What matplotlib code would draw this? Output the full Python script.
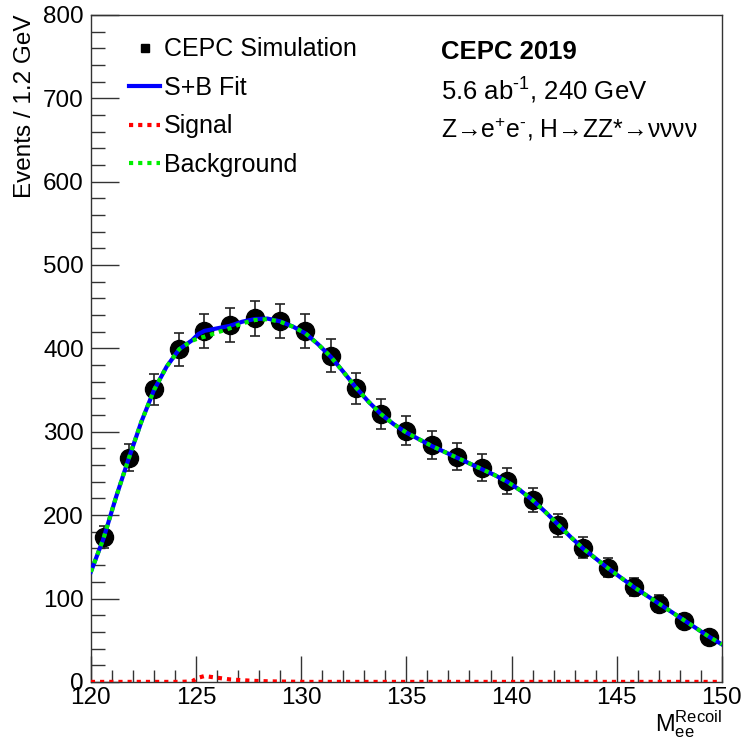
import numpy as np
import matplotlib
matplotlib.use("Agg")
import matplotlib.pyplot as plt
from matplotlib.ticker import MultipleLocator
from matplotlib.lines import Line2D

plt.rcParams['font.family'] = ['Liberation Sans', 'DejaVu Sans']
plt.rcParams['mathtext.fontset'] = 'custom'
plt.rcParams['mathtext.rm'] = 'Liberation Sans'
plt.rcParams['mathtext.it'] = 'Liberation Sans:italic'
plt.rcParams['mathtext.bf'] = 'Liberation Sans:bold'

# simulated data, 1.2 GeV bins
bin_centers = [120.6, 121.8, 123.0, 124.2, 125.4, 126.6, 127.8, 129.0, 130.2,
               131.4, 132.6, 133.8, 135.0, 136.2, 137.4, 138.6, 139.8, 141.0,
               142.2, 143.4, 144.6, 145.8, 147.0, 148.2, 149.4]
counts = [174, 269, 351, 399, 421, 428, 436, 433, 421, 391, 352, 321, 301,
          284, 270, 257, 241, 218, 188, 161, 137, 114, 94, 73, 54]

# fit curves
curve_x = [120.0, 120.6, 121.2, 121.8, 122.4, 123.0, 123.6, 124.2, 124.8,
           125.1, 125.4, 126.0, 126.6, 127.2, 127.8, 128.4, 129.0, 129.6,
           130.2, 130.8, 131.4, 132.0, 132.6, 133.2, 133.8, 134.4, 135.0,
           135.6, 136.2, 136.8, 137.4, 138.0, 138.6, 139.2, 139.8, 140.4,
           141.0, 141.6, 142.2, 142.8, 143.4, 144.0, 144.6, 145.2, 145.8,
           146.4, 147.0, 147.6, 148.2, 148.8, 149.4, 150.0]
background = [132, 172, 222, 268, 312, 350, 378, 399, 409, 412, 414, 419,
              424, 430, 434, 435, 432, 426, 418, 405, 390, 372, 353, 336,
              321, 309, 299, 291, 283, 276, 269, 262, 255, 248, 240, 230,
              218, 204, 189, 174, 160, 148, 136, 125, 114, 104, 94, 84, 74,
              64, 54, 45]
signal = [0, 0, 0, 0, 0, 0, 0, 0, 0.5, 5, 7, 5, 3, 2, 1.2, 0.7, 0.4, 0.2,
          0, 0, 0, 0, 0, 0, 0, 0, 0, 0, 0, 0, 0, 0, 0, 0, 0, 0, 0, 0, 0, 0,
          0, 0, 0, 0, 0, 0, 0, 0, 0, 0, 0, 0]

sb_fit = np.array(background) + np.array(signal)
errors = np.sqrt(counts)

fig = plt.figure(figsize=(7.45, 7.42), dpi=100)
ax = fig.add_axes([0.122, 0.081, 0.847, 0.899])

ax.errorbar(bin_centers, counts, yerr=errors, fmt='o', color='black',
            markersize=13, ecolor='#222222', elinewidth=1.2, capsize=3.5,
            capthick=1.2, zorder=2)
ax.plot(curve_x, sb_fit, color='#0000ff', lw=3, zorder=3)
ax.plot(curve_x, signal, color='#ff0000', lw=3, ls=(0, (1, 1.2)), zorder=4)
ax.plot(curve_x, background, color='#00ee00', lw=3, ls=(0, (1, 1.2)), zorder=4)

ax.set_xlim(120, 150)
ax.set_ylim(0, 800)
ax.xaxis.set_major_locator(MultipleLocator(5))
ax.xaxis.set_minor_locator(MultipleLocator(1))
ax.yaxis.set_major_locator(MultipleLocator(100))
ax.yaxis.set_minor_locator(MultipleLocator(20))
ax.tick_params(which='both', direction='in', top=False, right=False,
               labelsize=17.5, width=1, color='#333333')
ax.tick_params(axis='x', which='major', length=19, pad=4)
ax.tick_params(axis='x', which='minor', length=9)
ax.tick_params(axis='y', which='major', length=20, pad=5)
ax.tick_params(axis='y', which='minor', length=10)
for s in ax.spines.values():
    s.set_linewidth(1)
    s.set_color('#333333')

ax.set_ylabel('Events / 1.2 GeV', fontsize=17.5, loc='top', labelpad=5)
ax.set_xlabel(r'$\mathregular{M_{ee}^{Recoil}}$', fontsize=17, loc='right',
              labelpad=-1)

handles = [
    Line2D([], [], marker='s', color='black', ls='none', markersize=6),
    Line2D([], [], color='#0000ff', lw=3),
    Line2D([], [], color='#ff0000', lw=3, ls=(0, (1, 1.2))),
    Line2D([], [], color='#00ee00', lw=3, ls=(0, (1, 1.2))),
]
labels = ['CEPC Simulation', 'S+B Fit', 'Signal', 'Background']
ax.legend(handles, labels, loc='upper left', bbox_to_anchor=(0.025, 1.0),
          frameon=False, fontsize=18, handlelength=1.25, handletextpad=0.15,
          labelspacing=0.58)

ax.text(0.555, 0.944, 'CEPC 2019', transform=ax.transAxes, fontsize=18.5,
        fontweight='bold', va='center')
ax.text(0.555, 0.886, '5.6 ab$^{\u2010\\mathregular{1}}$, 240 GeV',
        transform=ax.transAxes, fontsize=18.5, va='center')
ax.text(0.555, 0.829, 'Z\u2192e$^{+}$e$^{\u2010}$, H\u2192ZZ*\u2192νννν',
        transform=ax.transAxes, fontsize=17.8, va='center')

fig.savefig('out.png', dpi=100)
